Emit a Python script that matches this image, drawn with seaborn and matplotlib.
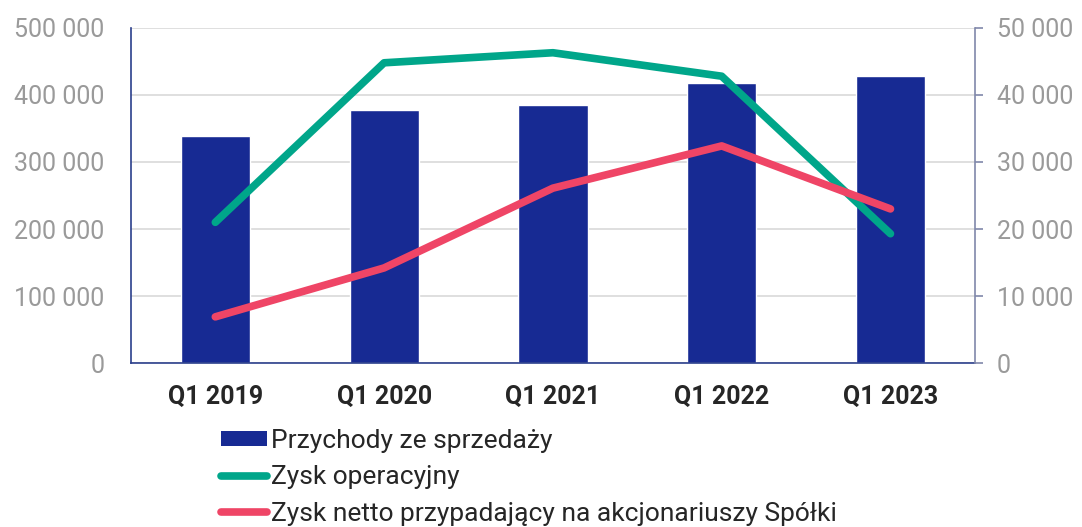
import pandas as pd
import seaborn as sns
import matplotlib.pyplot as plt
import matplotlib.ticker as mticker
from matplotlib.lines import Line2D
from matplotlib.patches import Patch

# data
quarters = ["Q1 2019", "Q1 2020", "Q1 2021", "Q1 2022", "Q1 2023"]
revenue = [339000, 377500, 384500, 418000, 428000]          # left axis
operating_profit = [21000, 44800, 46300, 42800, 19300]      # right axis
net_profit = [6900, 14200, 26100, 32400, 23000]             # right axis

labels = ["Przychody ze sprzedaży", "Zysk operacyjny",
          "Zysk netto przypadający na akcjonariuszy Spółki"]

bar_color = "#172a93"
green = "#00a68a"
red = "#ef4566"
tick_gray = "#9a9a9a"

df = pd.DataFrame({"quarter": quarters, "revenue": revenue,
                   "operating": operating_profit, "net": net_profit})

sns.set_style("white")
plt.rcParams["font.family"] = ["Roboto", "DejaVu Sans"]

fig = plt.figure(figsize=(10.82, 5.27), dpi=100)
ax = fig.add_axes([0.121, 0.311, 0.780, 0.636])

sns.barplot(data=df, x="quarter", y="revenue", color=bar_color, width=0.41,
            saturation=1, ax=ax, zorder=2)
ax.set_ylim(0, 500000)
ax.set_xlim(-0.5, 4.5)
ax.yaxis.set_major_locator(mticker.MultipleLocator(100000))
ax.yaxis.set_major_formatter(mticker.FuncFormatter(lambda v, p: f"{int(v):,}".replace(",", " ")))
ax.grid(axis="y", color="#d9d9d9", lw=1.2, zorder=0)
ax.set_axisbelow(True)
ax.set_xlabel("")
ax.set_ylabel("")
ax.tick_params(axis="y", length=0, labelsize=18, labelcolor=tick_gray, pad=19)
ax.tick_params(axis="x", length=0, labelsize=18, pad=16)
for t in ax.get_xticklabels():
    t.set_fontweight("bold")
for s in ["top", "right"]:
    ax.spines[s].set_visible(False)
ax.spines["left"].set_color("#2b3f8c")
ax.spines["bottom"].set_color("#2b3f8c")
ax.spines["left"].set_linewidth(1.2)
ax.spines["bottom"].set_linewidth(1.2)

ax2 = ax.twinx()
sns.lineplot(data=df, x="quarter", y="operating", color=green, lw=5.5,
             solid_capstyle="round", ax=ax2, zorder=3)
sns.lineplot(data=df, x="quarter", y="net", color=red, lw=5.5,
             solid_capstyle="round", ax=ax2, zorder=3)
ax2.set_ylim(0, 50000)
ax2.set_xlim(-0.5, 4.5)
ax2.yaxis.set_major_locator(mticker.MultipleLocator(10000))
ax2.yaxis.set_major_formatter(mticker.FuncFormatter(lambda v, p: f"{int(v):,}".replace(",", " ")))
ax2.set_ylabel("")
ax2.tick_params(axis="y", right=True, direction="out", length=6, width=1.2,
                color="#8088aa", labelsize=18, labelcolor=tick_gray, pad=10)
for s in ["top", "left", "bottom"]:
    ax2.spines[s].set_visible(False)
ax2.spines["right"].set_color("#8088aa")
ax2.spines["right"].set_linewidth(1.2)

handles = [Patch(facecolor=bar_color, edgecolor="none"),
           Line2D([], [], color=green, lw=5.5, solid_capstyle="round"),
           Line2D([], [], color=red, lw=5.5, solid_capstyle="round")]
fig.legend(handles, labels, loc="upper left", bbox_to_anchor=(0.204, 0.186),
           frameon=False, fontsize=19, handlelength=1.75, handleheight=0.5,
           handletextpad=0.15, labelspacing=0.47, borderaxespad=0,
           borderpad=0)

fig.savefig("out.png", dpi=100)
